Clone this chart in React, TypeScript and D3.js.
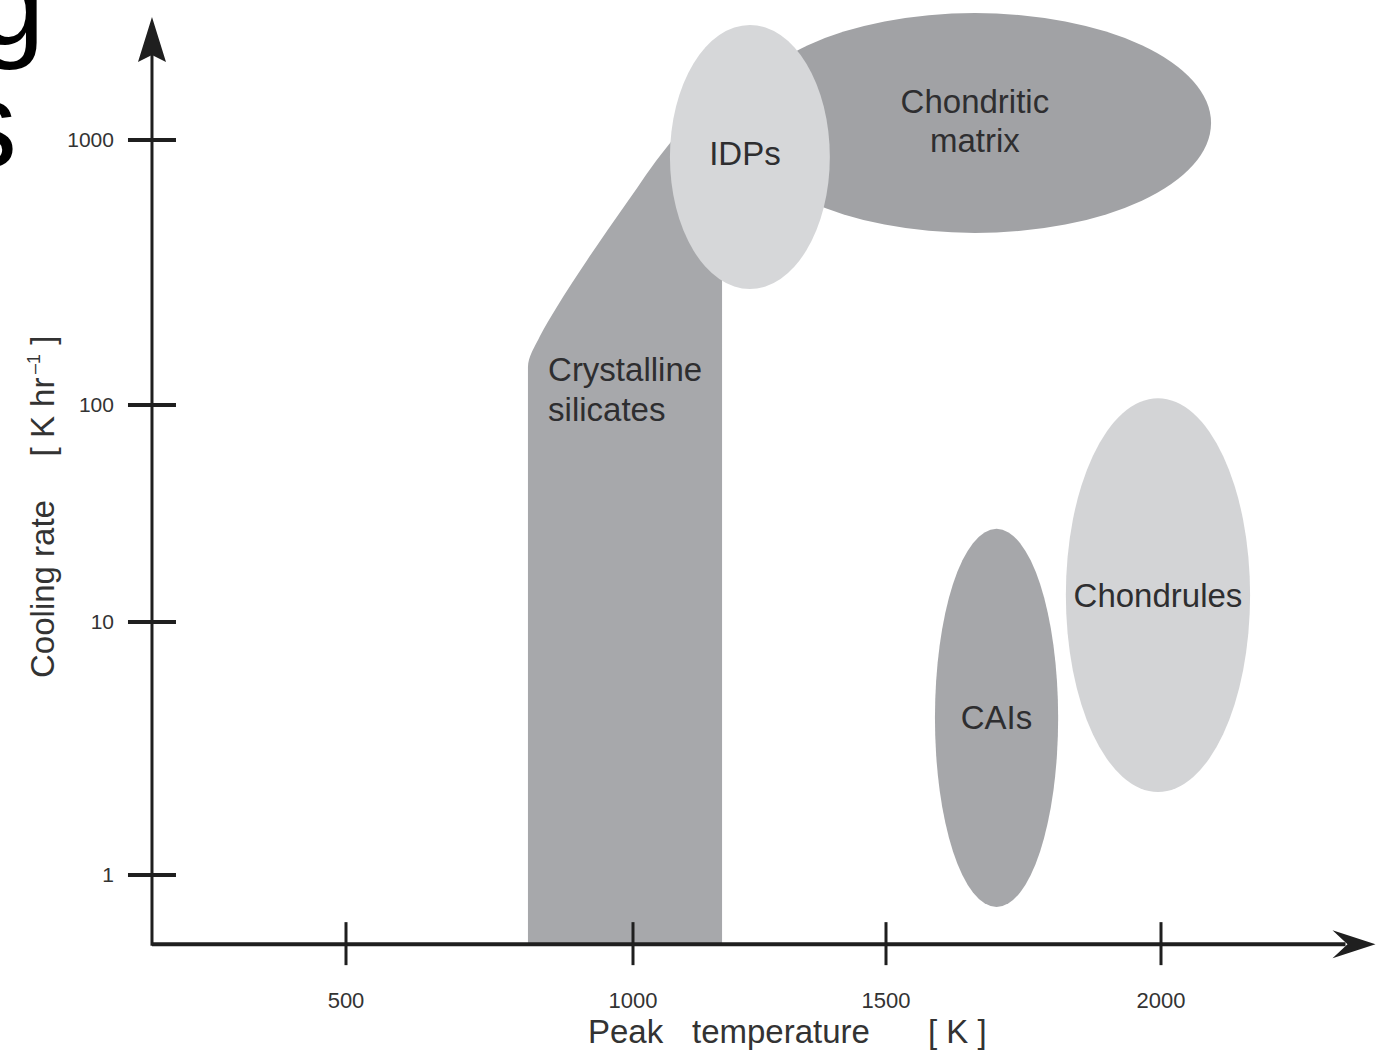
import React from "react";
import * as d3 from "d3";

// ---- Data (peak temperature in K, cooling rate in K/hr) ----
const X_TICKS = [500, 1000, 1500, 2000];
const Y_TICKS = [1, 10, 100, 1000];
const X_TICK_LABELS = ["500", "1000", "1500", "2000"];
const Y_TICK_LABELS = ["1", "10", "100", "1000"];
const X_EXTENT = [162, 2390];
const Y_EXTENT = [0.533, 2913];

// Crystalline silicates outline (temperature, cooling rate)
const CRYST_BASE_T = [817, 1176];
const CRYST_BASE_R = 0.533;
const CRYST_TOP_R = 1189;
// left (curved) edge, from the top down
const CRYST_EDGE_T = [1113, 1067, 990, 920, 866, 838, 817, 817];
const CRYST_EDGE_R = [1189, 942, 583, 352, 232, 182, 139, 100];

// Elliptical regions
const REGION_NAMES = ["Chondritic matrix", "IDPs", "CAIs", "Chondrules"];
const REGION_T_MIN = [1209, 1073, 1589, 1827];
const REGION_T_MAX = [2091, 1389, 1813, 2162];
const REGION_R_MIN = [446, 274, 0.748, 2.13];
const REGION_R_MAX = [3013, 2716, 26.9, 106];
const REGION_LINES = [["Chondritic", "matrix"], ["IDPs"], ["CAIs"], ["Chondrules"]];
const REGION_FILL = ["#a1a2a5", "#d6d7d9", "#a6a7aa", "#d3d4d6"];

const CRYST_LABEL = ["Crystalline", "silicates"];
const CRYST_LABEL_T = 852;
const CRYST_LABEL_R = 137;

export default function App() {
  const W = 1378;
  const H = 1050;
  const x = d3.scaleLinear().domain(X_TICKS).range([346, 633, 886, 1161]);
  const y = d3.scaleLog().domain(Y_TICKS).range([875, 622, 405, 140]);

  const x0 = x(X_EXTENT[0]);
  const x1 = x(X_EXTENT[1]);
  const y0 = y(Y_EXTENT[0]);
  const y1 = y(Y_EXTENT[1]);

  const edgePts = CRYST_EDGE_T.map((t, i) => [t, CRYST_EDGE_R[i]] as [number, number]);
  const curve = d3
    .line<[number, number]>()
    .x((d) => x(d[0]))
    .y((d) => y(d[1]))
    .curve(d3.curveMonotoneY);
  const curveStr = (curve(edgePts) || "").replace(/^M/, "L");
  const crystPath =
    `M${x(CRYST_BASE_T[1])},${y(CRYST_BASE_R)}` +
    `L${x(CRYST_BASE_T[1])},${y(CRYST_TOP_R)}` +
    curveStr +
    `L${x(CRYST_BASE_T[0])},${y(CRYST_BASE_R)}Z`;

  const font = "'Liberation Sans', Arial, Helvetica, sans-serif";
  const textColor = "#2e2e30";
  const axisColor = "#1f1f1f";

  const ellipses = REGION_NAMES.map((name, i) => {
    const ex0 = x(REGION_T_MIN[i]);
    const ex1 = x(REGION_T_MAX[i]);
    const ey0 = y(REGION_R_MIN[i]);
    const ey1 = y(REGION_R_MAX[i]);
    return {
      name,
      cx: (ex0 + ex1) / 2,
      cy: (ey0 + ey1) / 2,
      rx: Math.abs(ex1 - ex0) / 2,
      ry: Math.abs(ey1 - ey0) / 2,
      fill: REGION_FILL[i],
      lines: REGION_LINES[i],
    };
  });

  return (
    <svg
      width={W}
      height={H}
      style={{ position: "absolute", left: 0, top: 0, background: "#fff" }}
      fontFamily={font}
    >
      <rect x={0} y={0} width={W} height={H} fill="#fff" />
      {/* cropped letters from surrounding page */}
      <text x={-23} y={45} fontSize={122} fill="#000" fontFamily={font}>g</text>
      <text x={-44} y={167} fontSize={122} fill="#000" fontFamily={font}>s</text>

      {/* Crystalline silicates */}
      <path d={crystPath} fill="#a7a8ab" />

      {ellipses.map((e) => (
        <ellipse key={e.name} cx={e.cx} cy={e.cy} rx={e.rx} ry={e.ry} fill={e.fill} />
      ))}

      {/* Region labels */}
      {CRYST_LABEL.map((s, k) => (
        <text
          key={s}
          x={x(CRYST_LABEL_T)}
          y={y(CRYST_LABEL_R) + 12 + k * 40}
          fontSize={33}
          fill={textColor}
        >
          {s}
        </text>
      ))}
      {ellipses.map((e) =>
        e.lines.map((s, k) => (
          <text
            key={e.name + s}
            x={e.cx - (e.name === "IDPs" ? 5 : 0)}
            y={e.cy - ((e.lines.length - 1) * 39) / 2 + k * 39 + (e.name === "IDPs" ? -4 : 0) - (e.name === "Chondritic matrix" ? 2 : 0)}
            dy="0.35em"
            textAnchor="middle"
            fontSize={33}
            fill={textColor}
          >
            {s}
          </text>
        ))
      )}

      {/* Axes */}
      <line x1={x0} x2={x1 - 30} y1={y0} y2={y0} stroke={axisColor} strokeWidth={4} />
      <line x1={x0} x2={x0} y1={y0 + 1.5} y2={y1 + 30} stroke={axisColor} strokeWidth={3} />
      <path
        d={`M${x1},${y0} L${x1 - 43},${y0 - 14} L${x1 - 28},${y0} L${x1 - 43},${y0 + 14} Z`}
        fill={axisColor}
      />
      <path
        d={`M${x0},${y1} L${x0 + 14},${y1 + 45} L${x0},${y1 + 38} L${x0 - 14},${y1 + 45} Z`}
        fill={axisColor}
      />

      {/* X ticks */}
      {X_TICKS.map((t, i) => (
        <g key={"xt" + t}>
          <line x1={x(t)} x2={x(t)} y1={y0 - 22} y2={y0 + 21} stroke={axisColor} strokeWidth={3} />
          <text x={x(t)} y={y0 + 64} textAnchor="middle" fontSize={22} fill="#333">
            {X_TICK_LABELS[i]}
          </text>
        </g>
      ))}

      {/* Y ticks */}
      {Y_TICKS.map((t, i) => (
        <g key={"yt" + t}>
          <line x1={x0 - 24} x2={x0 + 24} y1={y(t)} y2={y(t)} stroke={axisColor} strokeWidth={4} />
          <text x={x0 - 38} y={y(t)} dy="0.35em" textAnchor="end" fontSize={21} fill="#333">
            {Y_TICK_LABELS[i]}
          </text>
        </g>
      ))}

      {/* Axis titles */}
      <text x={588} y={1043} fontSize={33} fill="#333">Peak</text>
      <text x={692} y={1043} fontSize={33} fill="#333">temperature</text>
      <text x={928} y={1043} fontSize={33} fill="#333">[ K ]</text>

      <text transform="translate(54,589) rotate(-90)" textAnchor="middle" fontSize={33} fill="#333">
        Cooling rate
      </text>
      <text transform="translate(54,396) rotate(-90)" textAnchor="middle" fontSize={33} fill="#333">
        [ K hr
        <tspan fontSize={18} dy={-14}>{"\u2009\u2013"}1</tspan>
        <tspan dy={14}>{" ]"}</tspan>
      </text>
    </svg>
  );
}
